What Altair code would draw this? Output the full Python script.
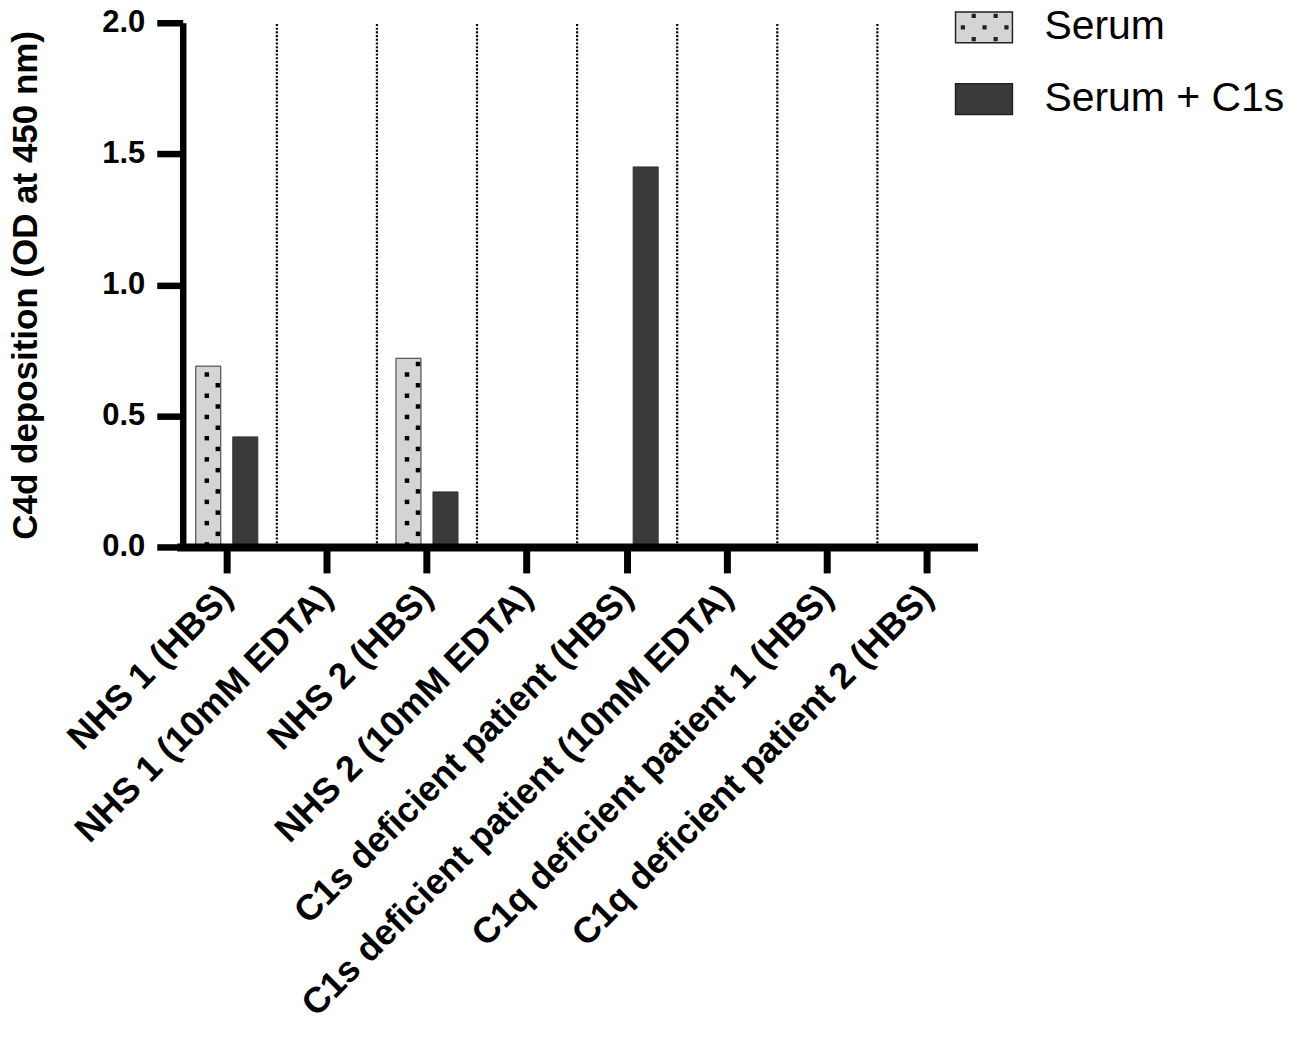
import altair as alt
import pandas as pd

categories = [
    "NHS 1 (HBS)",
    "NHS 1 (10mM EDTA)",
    "NHS 2 (HBS)",
    "NHS 2 (10mM EDTA)",
    "C1s deficient patient (HBS)",
    "C1s deficient patient (10mM EDTA)",
    "C1q deficient patient 1 (HBS)",
    "C1q deficient patient 2 (HBS)",
]
series_names = ["Serum", "Serum + C1s"]
serum = [0.69, 0.0, 0.72, 0.0, 0.0, 0.0, 0.0, 0.0]
serum_c1s = [0.42, 0.0, 0.21, 0.0, 1.45, 0.0, 0.0, 0.0]
y_ticks = [0.0, 0.5, 1.0, 1.5, 2.0]

FONT = "Liberation Sans"

rows = []
for c, a, b in zip(categories, serum, serum_c1s):
    rows.append({"category": c, "series": series_names[0], "value": a})
    rows.append({"category": c, "series": series_names[1], "value": b})
df = pd.DataFrame(rows)

# dotted texture of the "Serum" bars (two staggered columns of dots inside each bar)
STEP = 0.081
dots = []
for c, v in zip(categories, serum):
    for col, phase in (("left", 0.01), ("right", 0.05)):
        y = phase
        while y <= v - 0.005:
            dots.append({"category": c, "col": col, "y": y})
            y += STEP
dots_df = pd.DataFrame(dots)

sep_df = pd.DataFrame({"category": categories[1:]})

# legend symbols: plain rectangle, and rectangle with a dotted texture
# (each dot = a few concentric stroked squares so it reads as a solid dark dot)
rect = "M-1,-0.54H1V0.54H-1Z"
dot_pts = [(-0.36, -0.4), (0.41, -0.4), (-0.74, 0.0), (0.02, 0.0), (0.79, 0.0), (-0.36, 0.42), (0.41, 0.42)]
dot_path = ""
for x, y in dot_pts:
    for d in (0.008, 0.028, 0.048):
        dot_path += f"M{x - d:.3f},{y - d:.3f}h{2 * d:.3f}v{2 * d:.3f}h{-2 * d:.3f}Z"
dotted_rect = rect + dot_path

colors = ["#d4d4d4", "#3a3a3a"]
# bars: same colours, domain listed in the other order so that this legend-less
# scale is not merged with the visible legend
bar_scale = alt.Scale(domain=series_names[::-1], range=colors[::-1])
fill_scale = alt.Scale(domain=series_names, range=colors)
shape_scale = alt.Scale(domain=series_names, range=[dotted_rect, rect])

x_enc = alt.X(
    "category:N",
    sort=categories,
    scale=alt.Scale(paddingInner=0, paddingOuter=0),
    axis=alt.Axis(
        title=None,
        labelAngle=-45,
        labelAlign="right",
        labelBaseline="middle",
        labelFont=FONT,
        labelFontSize=36,
        labelFontWeight="bold",
        labelColor="black",
        labelLimit=2000,
        labelOverlap=False,
        labelPadding=18,
        tickSize=26,
        tickWidth=7,
        tickColor="black",
        domainWidth=8,
        domainColor="black",
        zindex=1,
    ),
)
y_scale = alt.Scale(domain=[0, 2], nice=False)
y_enc = alt.Y(
    "value:Q",
    scale=y_scale,
    axis=alt.Axis(
        values=y_ticks,
        format=".1f",
        title="C4d deposition (OD at 450 nm)",
        titleFont=FONT,
        titleFontSize=35,
        titleFontWeight="bold",
        titleColor="black",
        titlePadding=58,
        labelFont=FONT,
        labelFontSize=31,
        labelFontWeight="bold",
        labelColor="black",
        labelPadding=12,
        tickSize=26,
        tickWidth=6.5,
        tickColor="black",
        domainWidth=6.5,
        domainColor="black",
        offset=-6,
        grid=False,
        zindex=1,
    ),
)

legend = alt.Legend(
    title=None,
    orient="none",
    legendX=779,
    legendY=-25,
    direction="vertical",
    labelFont=FONT,
    labelFontSize=41,
    labelColor="black",
    labelLimit=1000,
    symbolSize=3249,
    symbolOpacity=1,
    rowPadding=22,
    labelOffset=31,
    padding=0,
)

separators = alt.Chart(sep_df).mark_rule(
    color="black", strokeWidth=2.2, strokeDash=[2.1, 1.6]
).encode(
    x=alt.X("category:N", sort=categories, bandPosition=0),
    y=alt.datum(0, scale=y_scale),
    y2=alt.datum(2),
)

bars = alt.Chart(df).mark_bar(stroke="#333333", strokeWidth=1).encode(
    x=x_enc,
    y=y_enc,
    xOffset=alt.XOffset(
        "series:N", sort=series_names, scale=alt.Scale(paddingInner=0.324, paddingOuter=0.514)
    ),
    color=alt.Color("series:N", scale=bar_scale, legend=None),
)

dots_left = alt.Chart(dots_df).transform_filter(alt.datum.col == "left").mark_square(
    color="black", size=20, opacity=1, xOffset=-20
).encode(
    x=alt.X("category:N", sort=categories),
    y=alt.Y("y:Q", scale=y_scale),
)
dots_right = alt.Chart(dots_df).transform_filter(alt.datum.col == "right").mark_square(
    color="black", size=20, opacity=1, xOffset=-9
).encode(
    x=alt.X("category:N", sort=categories),
    y=alt.Y("y:Q", scale=y_scale),
)

legend_pts = alt.Chart(df).mark_point(
    filled=True, size=0, stroke="#222222", strokeWidth=1.5
).encode(
    x=alt.X("category:N", sort=categories),
    y=alt.datum(0, scale=y_scale),
    fill=alt.Fill("series:N", scale=fill_scale, legend=legend),
    shape=alt.Shape("series:N", scale=shape_scale, legend=legend),
)

chart = (
    alt.layer(separators, bars, dots_left, dots_right, legend_pts)
    .properties(
        width=802,
        height=525,
        background="white",
        autosize=alt.AutoSizeParams(type="none"),
        padding={"left": 169, "top": 14, "right": 315, "bottom": 480},
    )
    .configure_view(strokeWidth=0)
)

chart.save("out.html", embed_options={"renderer": "svg", "actions": False})
